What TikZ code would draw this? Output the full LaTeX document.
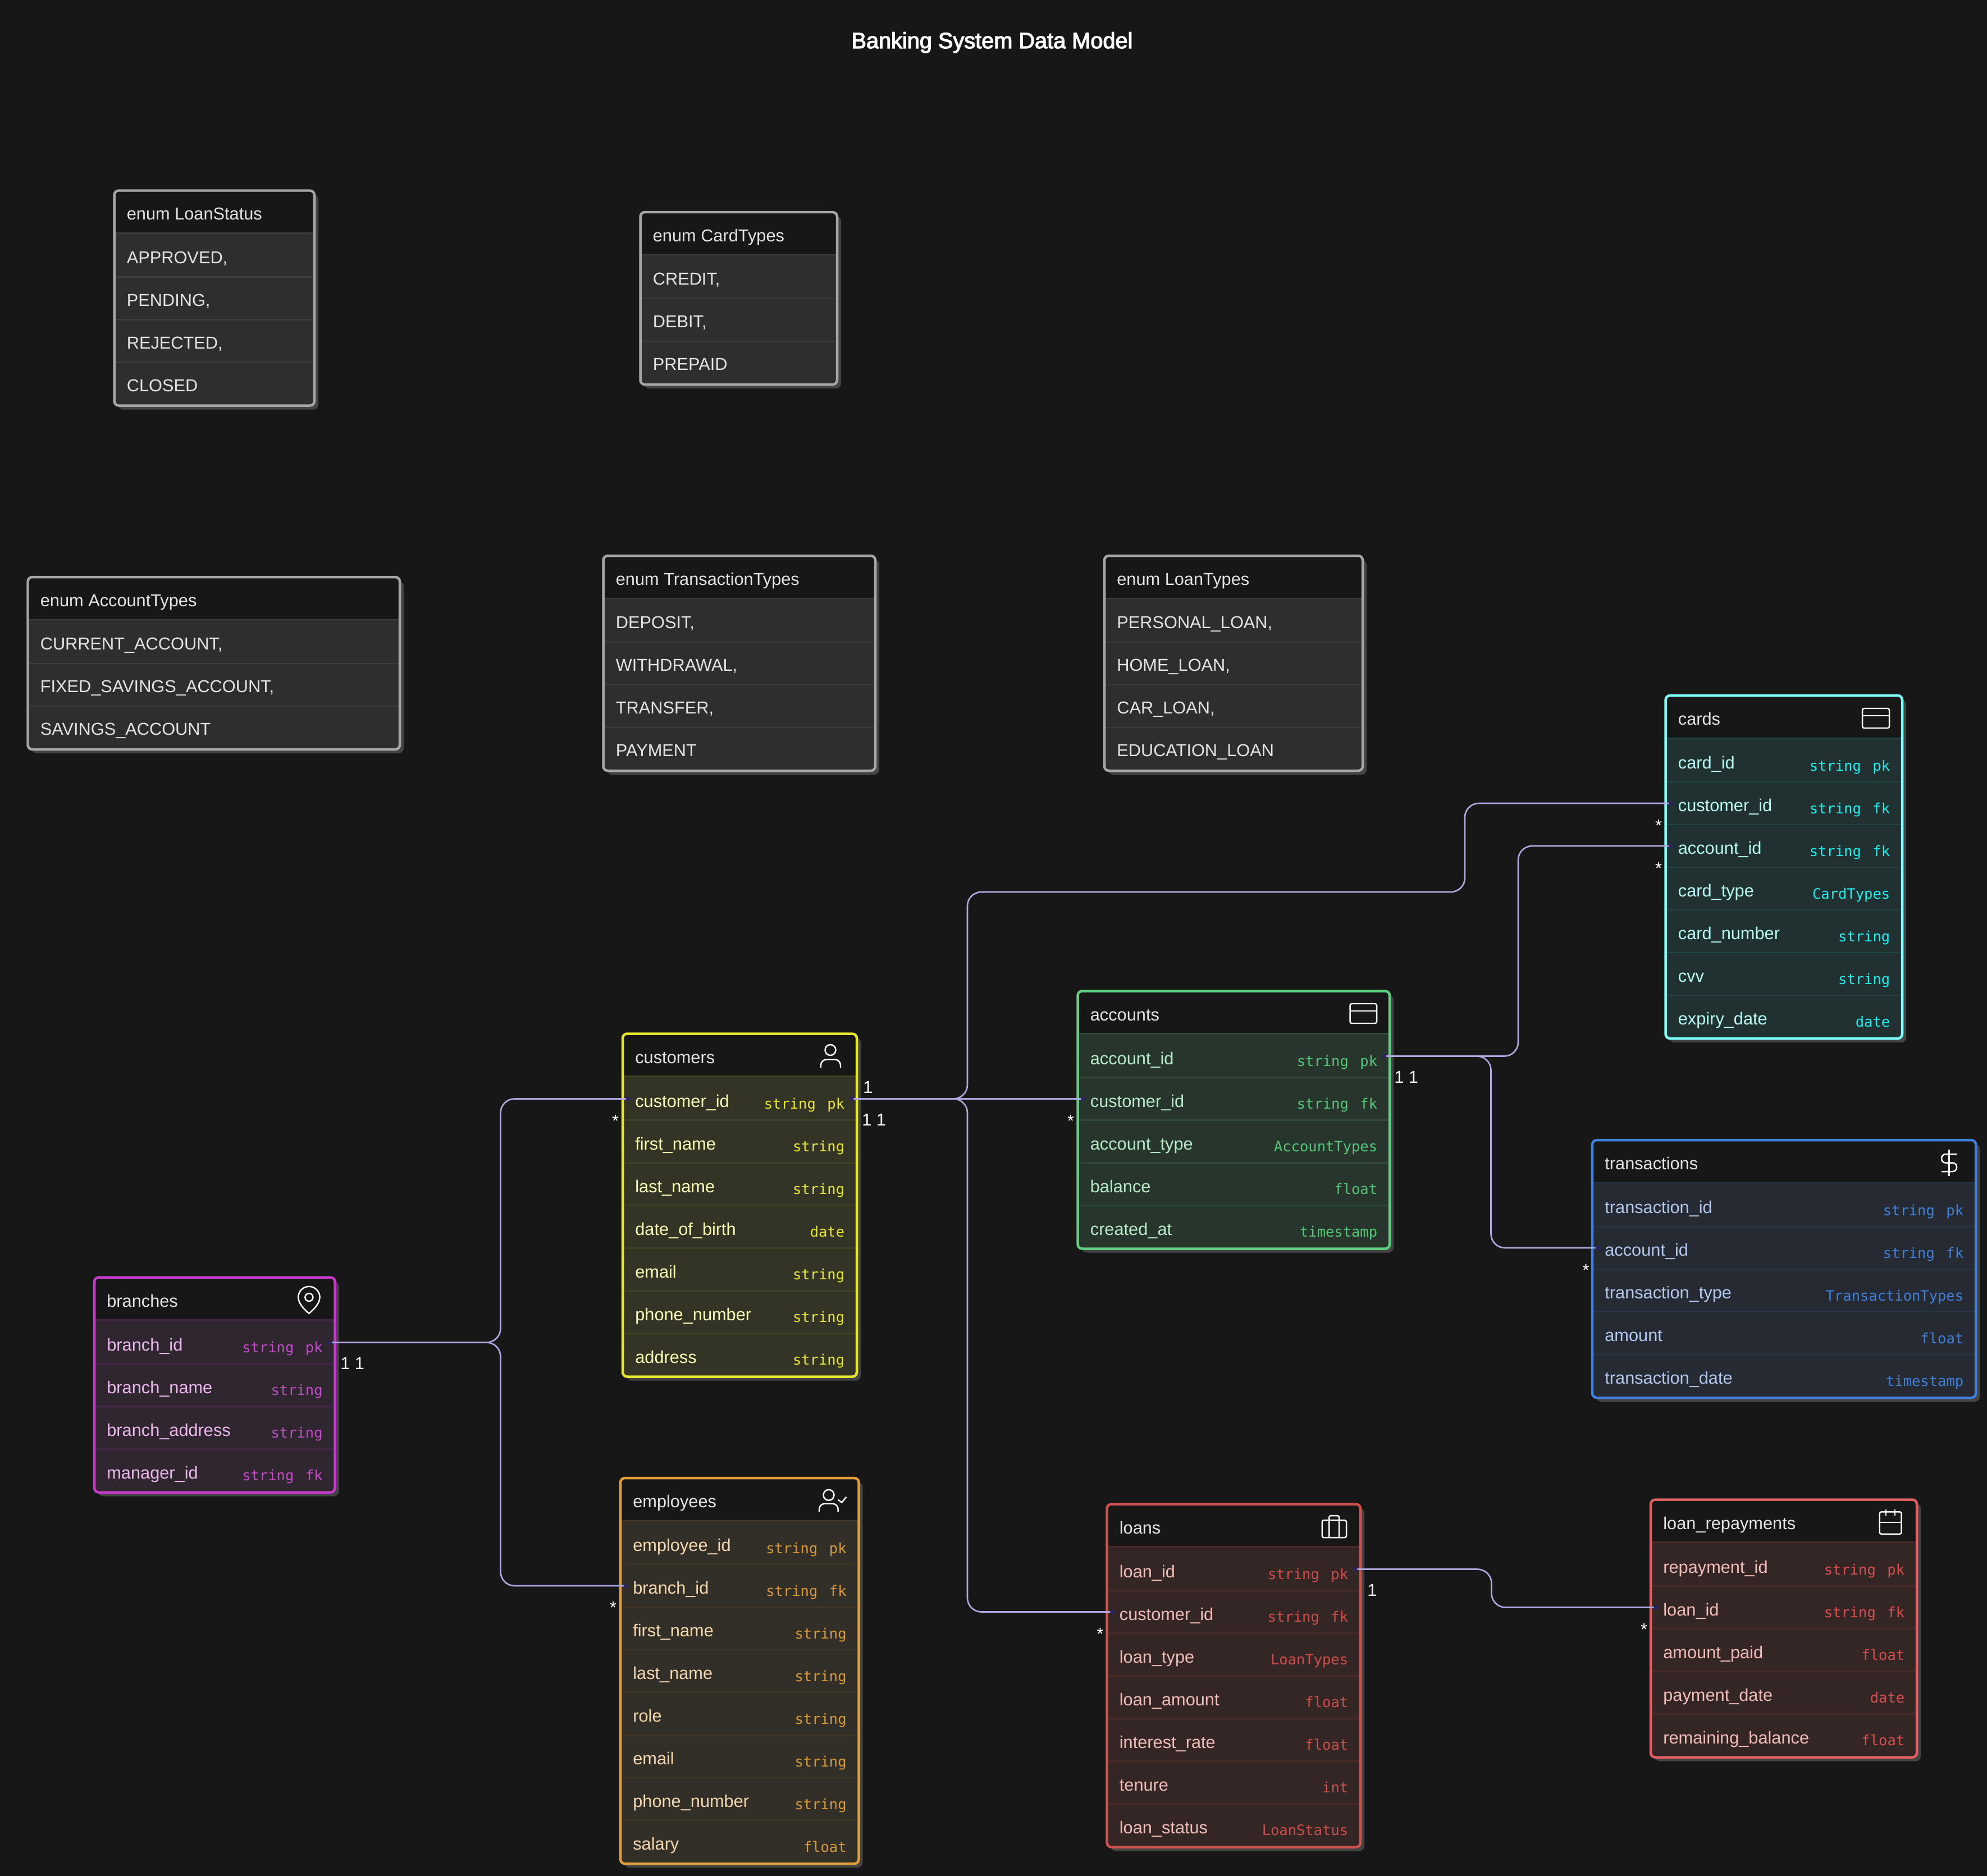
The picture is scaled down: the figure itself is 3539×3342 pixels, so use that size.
\documentclass[tikz,border=0pt]{standalone}
\usepackage{fontspec}
\setmainfont{Liberation Sans}
\newfontfamily\monof{DejaVu Sans Mono}
\newfontfamily\titlef[FakeBold=3]{Liberation Sans}
\definecolor{pagebg}{HTML}{171717}
\definecolor{shadowc}{HTML}{444444}
\definecolor{linec}{HTML}{B0A8E0}
\definecolor{dotc}{HTML}{2A2560}
\definecolor{enumBorder}{HTML}{A6A6A6}\definecolor{enumFill}{HTML}{2E2E2E}\definecolor{enumSep}{HTML}{3C3C3C}\definecolor{enumName}{HTML}{E4E4E4}\definecolor{enumType}{HTML}{E4E4E4}
\definecolor{cusBorder}{HTML}{E6E62E}\definecolor{cusFill}{HTML}{333326}\definecolor{cusSep}{HTML}{3F4124}\definecolor{cusName}{HTML}{FDFDB8}\definecolor{cusType}{HTML}{E8E82E}
\definecolor{carBorder}{HTML}{7FFCFC}\definecolor{carFill}{HTML}{213030}\definecolor{carSep}{HTML}{1F4645}\definecolor{carName}{HTML}{B8FBF5}\definecolor{carType}{HTML}{1EF0F0}
\definecolor{braBorder}{HTML}{C33CC8}\definecolor{braFill}{HTML}{302630}\definecolor{braSep}{HTML}{462648}\definecolor{braName}{HTML}{ECB8EE}\definecolor{braType}{HTML}{C34CC8}
\definecolor{empBorder}{HTML}{E09D3A}\definecolor{empFill}{HTML}{322E28}\definecolor{empSep}{HTML}{463524}\definecolor{empName}{HTML}{F5D8B0}\definecolor{empType}{HTML}{D99A3A}
\definecolor{loaBorder}{HTML}{CF5250}\definecolor{loaFill}{HTML}{332625}\definecolor{loaSep}{HTML}{4A2A28}\definecolor{loaName}{HTML}{F0BDB8}\definecolor{loaType}{HTML}{CC4F4C}
\definecolor{repBorder}{HTML}{E05F62}\definecolor{repFill}{HTML}{332625}\definecolor{repSep}{HTML}{4A2A28}\definecolor{repName}{HTML}{F2BDB8}\definecolor{repType}{HTML}{D94F50}
\definecolor{traBorder}{HTML}{3F7FDC}\definecolor{traFill}{HTML}{252A33}\definecolor{traSep}{HTML}{26354A}\definecolor{traName}{HTML}{B4C8EE}\definecolor{traType}{HTML}{4080D8}
\definecolor{accBorder}{HTML}{5FD080}\definecolor{accFill}{HTML}{28352D}\definecolor{accSep}{HTML}{2C4A36}\definecolor{accName}{HTML}{B8ECC8}\definecolor{accType}{HTML}{55C878}
\newcommand{\sanstxt}{\fontsize{17.5pt}{20pt}\selectfont}
\newcommand{\monotxt}{\monof\fontsize{14.5pt}{18pt}\selectfont}
\tikzset{
  nametext/.style={inner sep=0pt,anchor=base west,font=\sanstxt},
  typetext/.style={inner sep=0pt,anchor=base east,font=\monotxt},
  card/.style={inner sep=0pt,anchor=base west,font=\sanstxt,text=white},
  staricon/.style={inner sep=0pt,anchor=base,font=\sanstxt,text=white},
  conn/.style={draw=linec,line width=1.5pt,rounded corners=0.5cm},
  icon/.style={draw=white,line width=1.4pt,rounded corners=0.06cm},
}
% id L R T nrows theme title
\newcommand{\erent}[7]{%
  \def\eid{#1}\def\eL{#2}\def\eR{#3}\def\eT{#4}\def\eth{#6}%
  \pgfmathsetmacro\eB{#4+79+76*#5}%
  \pgfmathsetmacro\eH{#4+76}%
  \fill[shadowc,rounded corners=0.18cm] (#2+7,#4+7) rectangle (#3+7,\eB+7);
  \fill[#6Fill,rounded corners=0.16cm] (#2,#4) rectangle (#3,\eB);
  \fill[pagebg,rounded corners=0.16cm] (#2,\eH) -- (#2,#4) -- (#3,#4) -- (#3,\eH) -- cycle;
  \draw[#6Sep,line width=1.54pt] (#2,\eH) -- (#3,\eH);
  \foreach \k in {1,...,#5}{%
    \pgfmathsetmacro\ey{#4+78+76*\k}%
    \ifnum\k<#5\relax\draw[#6Sep,line width=1.54pt] (#2,\ey) -- (#3,\ey);\fi
  }
  \draw[#6Border,line width=2.56pt,rounded corners=0.16cm] (#2,#4) rectangle (#3,\eB);
  \node[nametext,text=enumName] (#1-title) at (#2+22,#4+52.5) {#7};
}
% i name type
\newcommand{\errow}[3]{%
  \pgfmathsetmacro\ey{\eT+40+76*#1}%
  \node[nametext,text=\eth Name] (\eid-#1-name) at (\eL+22,\ey+14.5) {#2};
  \node[typetext,text=\eth Type] (\eid-#1-type) at (\eR-21.5,\ey+18) {#3};
  \coordinate (\eid-#1-l) at (\eL+9.5,\ey);
  \coordinate (\eid-#1-r) at (\eR-9.5,\ey);
}
\newcommand{\enumrow}[2]{%
  \pgfmathsetmacro\ey{\eT+40+76*#1}%
  \node[nametext,text=enumName] (\eid-#1-name) at (\eL+22,\ey+13.5) {#2};
}
\newcommand{\pk}{string\kern3pt\ pk}
\newcommand{\fk}{string\kern3pt\ fk}
\begin{document}
\begin{tikzpicture}[x=0.02cm,y=-0.02cm]
\useasboundingbox (0,0) rectangle (3539,3342);
\fill[pagebg] (0,0) rectangle (3539,3342);
\node[inner sep=0pt,anchor=base,text=white,font=\titlef\fontsize{22.6pt}{26pt}\selectfont] (title) at (1767,86) {Banking System Data Model};

% enums
\erent{loanstatus}{203.5}{560}{339.5}{4}{enum}{enum LoanStatus}
\enumrow{1}{APPROVED,}\enumrow{2}{PENDING,}\enumrow{3}{REJECTED,}\enumrow{4}{CLOSED}
\erent{cardtypes}{1140.5}{1491}{378}{3}{enum}{enum CardTypes}
\enumrow{1}{CREDIT,}\enumrow{2}{DEBIT,}\enumrow{3}{PREPAID}
\erent{accounttypes}{49.5}{712}{1028}{3}{enum}{enum AccountTypes}
\enumrow{1}{CURRENT\_ACCOUNT,}\enumrow{2}{FIXED\_SAVINGS\_ACCOUNT,}\enumrow{3}{SAVINGS\_ACCOUNT}
\erent{transactiontypes}{1074.5}{1559}{990}{4}{enum}{enum TransactionTypes}
\enumrow{1}{DEPOSIT,}\enumrow{2}{WITHDRAWAL,}\enumrow{3}{TRANSFER,}\enumrow{4}{PAYMENT}
\erent{loantypes}{1967}{2427}{990}{4}{enum}{enum LoanTypes}
\enumrow{1}{PERSONAL\_LOAN,}\enumrow{2}{HOME\_LOAN,}\enumrow{3}{CAR\_LOAN,}\enumrow{4}{EDUCATION\_LOAN}

% entities
\erent{cards}{2966.5}{3388}{1239}{7}{car}{cards}
\errow{1}{card\_id}{\pk}\errow{2}{customer\_id}{\fk}\errow{3}{account\_id}{\fk}\errow{4}{card\_type}{CardTypes}\errow{5}{card\_number}{string}\errow{6}{cvv}{string}\errow{7}{expiry\_date}{date}
\erent{accounts}{1919.5}{2475}{1765.5}{5}{acc}{accounts}
\errow{1}{account\_id}{\pk}\errow{2}{customer\_id}{\fk}\errow{3}{account\_type}{AccountTypes}\errow{4}{balance}{float}\errow{5}{created\_at}{timestamp}
\erent{customers}{1109}{1526}{1841.5}{7}{cus}{customers}
\errow{1}{customer\_id}{\pk}\errow{2}{first\_name}{string}\errow{3}{last\_name}{string}\errow{4}{date\_of\_birth}{date}\errow{5}{email}{string}\errow{6}{phone\_number}{string}\errow{7}{address}{string}
\erent{transactions}{2836}{3519}{2031}{5}{tra}{transactions}
\errow{1}{transaction\_id}{\pk}\errow{2}{account\_id}{\fk}\errow{3}{transaction\_type}{TransactionTypes}\errow{4}{amount}{float}\errow{5}{transaction\_date}{timestamp}
\erent{branches}{168}{596.5}{2275.5}{4}{bra}{branches}
\errow{1}{branch\_id}{\pk}\errow{2}{branch\_name}{string}\errow{3}{branch\_address}{string}\errow{4}{manager\_id}{\fk}
\erent{employees}{1105}{1529.5}{2633}{8}{emp}{employees}
\errow{1}{employee\_id}{\pk}\errow{2}{branch\_id}{\fk}\errow{3}{first\_name}{string}\errow{4}{last\_name}{string}\errow{5}{role}{string}\errow{6}{email}{string}\errow{7}{phone\_number}{string}\errow{8}{salary}{float}
\erent{loans}{1971.5}{2423}{2679.5}{7}{loa}{loans}
\errow{1}{loan\_id}{\pk}\errow{2}{customer\_id}{\fk}\errow{3}{loan\_type}{LoanTypes}\errow{4}{loan\_amount}{float}\errow{5}{interest\_rate}{float}\errow{6}{tenure}{int}\errow{7}{loan\_status}{LoanStatus}
\erent{repayments}{2940}{3414}{2671.5}{5}{rep}{loan\_repayments}
\errow{1}{repayment\_id}{\pk}\errow{2}{loan\_id}{\fk}\errow{3}{amount\_paid}{float}\errow{4}{payment\_date}{date}\errow{5}{remaining\_balance}{float}

% connector bend points
\coordinate (jCardA) at (1723,1589);
\coordinate (jCardB) at (2609,1589);
\coordinate (jAccCard) at (2704,1881.5);
\coordinate (jAccTra) at (2655.5,1881.5);
\coordinate (jCusLoan) at (1723,1957.5);
\coordinate (jBraUp) at (891.5,2391.5);
\coordinate (jLoan) at (2656.5,2795.5);

\draw[conn] (customers-1-r) -| (jCardA) -- (jCardB) |- (cards-2-l);
\draw[conn] (customers-1-r) -- (accounts-2-l);
\draw[conn] (customers-1-r) -- (jCusLoan) |- (loans-2-l);
\draw[conn] (accounts-1-r) -- (jAccCard) |- (cards-3-l);
\draw[conn] (accounts-1-r) -- (jAccTra) |- (transactions-2-l);
\draw[conn] (branches-1-r) -- (jBraUp) |- (customers-1-l);
\draw[conn] (branches-1-r) -- (jBraUp) |- (employees-2-l);
\draw[conn] (loans-1-r) -- (jLoan) |- (repayments-2-l);

\foreach \d in {customers-1-r,customers-1-l,accounts-2-l,accounts-1-r,cards-2-l,cards-3-l,loans-2-l,loans-1-r,transactions-2-l,branches-1-r,employees-2-l,repayments-2-l}
  \fill[dotc] (\d) circle[radius=0.08cm];

% cardinalities
\node[card] (c1) at (1537,1947) {1};
\node[card] (c2) at (1535,2005) {1 1};
\node[card] (c3) at (2483,1929) {1 1};
\node[card] (c4) at (606,2439) {1 1};
\node[card] (c5) at (2435,2843) {1};
\node[staricon] (s1) at (1096,2007) {*};
\node[staricon] (s2) at (1907,2007) {*};
\node[staricon] (s3) at (2954,1481) {*};
\node[staricon] (s4) at (2954,1557) {*};
\node[staricon] (s5) at (2824.5,2273) {*};
\node[staricon] (s6) at (1092,2874) {*};
\node[staricon] (s7) at (1959.5,2921) {*};
\node[staricon] (s8) at (2928,2913) {*};

% icons
\draw[icon] (3317,1262) rectangle (3365,1297);
\draw[icon] (3317,1275) -- (3365,1275);
\draw[icon] (2404.5,1788) rectangle (2452,1823);
\draw[icon] (2404.5,1801) -- (2452,1801);
% user
\draw[icon] (1479,1870.5) circle[radius=0.19cm];
\draw[icon,rounded corners=0.2cm] (1462,1902) -- (1462,1887.5) -- (1497,1887.5) -- (1497,1902);
% user check
\draw[icon] (1476,2663.3) circle[radius=0.19cm];
\draw[icon,rounded corners=0.2cm] (1459,2693) -- (1459,2678.7) -- (1492.7,2678.7) -- (1492.7,2693);
\draw[icon,rounded corners=0pt] (1492.7,2671.7) -- (1499.3,2676.5) -- (1507.3,2666.7);
% pin
\draw[icon,rounded corners=0pt] (569.6,2311) .. controls (569.6,2325.4) and (550.4,2339.8) .. (550.4,2339.8) .. controls (550.4,2339.8) and (531.2,2325.4) .. (531.2,2311) arc[start angle=180,end angle=0,radius=0.384cm] -- cycle;
\draw[icon] (550.4,2311) circle[radius=0.14cm];
% dollar
\draw[icon,rounded corners=0pt] (3471.5,2047.7) -- (3471.5,2095);
\draw[icon,rounded corners=0pt] (3485,2056) -- (3465.5,2056) .. controls (3455.5,2056) and (3455.5,2071.5) .. (3465.5,2071.5) -- (3477.5,2071.5) .. controls (3487.5,2071.5) and (3487.5,2087) .. (3477.5,2087) -- (3458,2087);
% briefcase
\draw[icon] (2354.7,2708.3) rectangle (2398,2739);
\draw[icon] (2367.3,2739) -- (2367.3,2700) -- (2385,2700) -- (2385,2739);
% calendar
\draw[icon] (3347.7,2693.3) rectangle (3386.6,2732.7);
\draw[icon,rounded corners=0pt] (3347.7,2711.7) -- (3386.6,2711.7);
\draw[icon,rounded corners=0pt] (3358.7,2689.3) -- (3358.7,2700);
\draw[icon,rounded corners=0pt] (3375.2,2689.3) -- (3375.2,2700);
\end{tikzpicture}
\end{document}
